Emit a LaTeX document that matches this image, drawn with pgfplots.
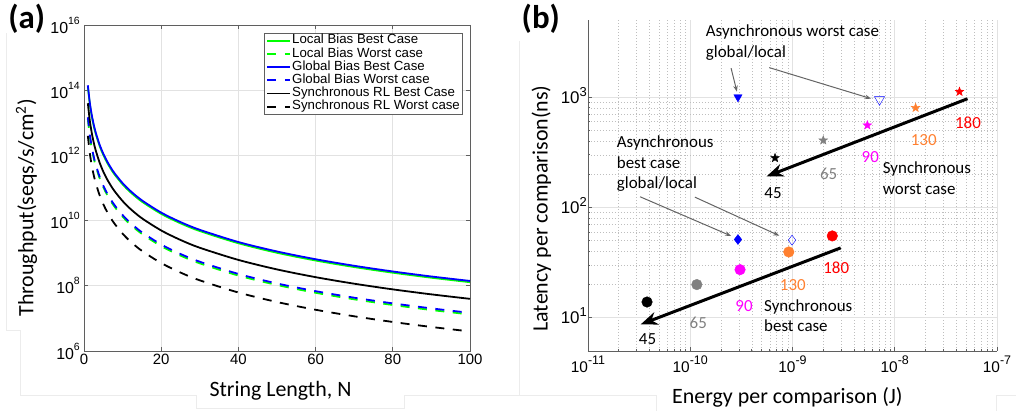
\documentclass[border=0pt]{standalone}
\usepackage{pgfplots}
\pgfplotsset{compat=1.18}
\usepackage{pgfplotstable}
\usepackage{fontspec}
\setmainfont{Carlito}
\newfontfamily\arial{Liberation Sans}
\usetikzlibrary{arrows.meta}

\definecolor{axgray}{RGB}{95,95,95}
\definecolor{gridgray}{RGB}{226,226,226}
\definecolor{minorgray}{RGB}{190,190,190}
\definecolor{edgegray}{RGB}{236,236,236}
\definecolor{arrgray}{RGB}{100,100,100}
\definecolor{morange}{RGB}{255,128,48}
\definecolor{mmagenta}{RGB}{255,0,255}
\definecolor{mgray}{RGB}{128,128,128}

% powers of ten for the tick labels
\newcommand{\tenA}[1]{10\raisebox{9bp}{\fontsize{10.5}{10.5}\selectfont #1}}
\newcommand{\tenB}[1]{10\raisebox{8bp}{\fontsize{12.5}{12.5}\selectfont #1}}
\newcommand{\tenC}[1]{10\raisebox{7bp}{\fontsize{13}{13}\selectfont #1}}
\newcommand{\legfont}{\arial\fontsize{13.3}{13.3}\selectfont}

% filled five-pointed star
\pgfdeclareplotmark{pstar}{%
  \pgfpathmoveto{\pgfpointpolar{90}{\pgfplotmarksize}}%
  \pgfpathlineto{\pgfpointpolar{126}{0.42\pgfplotmarksize}}%
  \pgfpathlineto{\pgfpointpolar{162}{\pgfplotmarksize}}%
  \pgfpathlineto{\pgfpointpolar{198}{0.42\pgfplotmarksize}}%
  \pgfpathlineto{\pgfpointpolar{234}{\pgfplotmarksize}}%
  \pgfpathlineto{\pgfpointpolar{270}{0.42\pgfplotmarksize}}%
  \pgfpathlineto{\pgfpointpolar{306}{\pgfplotmarksize}}%
  \pgfpathlineto{\pgfpointpolar{342}{0.42\pgfplotmarksize}}%
  \pgfpathlineto{\pgfpointpolar{18}{\pgfplotmarksize}}%
  \pgfpathlineto{\pgfpointpolar{54}{0.42\pgfplotmarksize}}%
  \pgfpathclose
  \pgfusepathqfillstroke}

% throughput (seqs/s/cm^2) versus string length N
\pgfplotstableread{
N    LB       LW       GB       GW       SB       SW
1    1.29e14  1.32e13  1.41e14  1.48e13  3.98e13  3.98e12
1.5  3.82e13  3.91e12  4.18e13  4.39e12  1.18e13  1.18e12
2    1.61e13  1.65e12  1.76e13  1.85e12  4.98e12  4.98e11
2.5  8.26e12  8.45e11  9.02e12  9.47e11  2.55e12  2.55e11
3    4.78e12  4.89e11  5.22e12  5.48e11  1.47e12  1.47e11
4    2.02e12  2.06e11  2.20e12  2.31e11  6.22e11  6.22e10
5    1.03e12  1.06e11  1.13e12  1.18e11  3.18e11  3.18e10
6    5.97e11  6.11e10  6.53e11  6.85e10  1.84e11  1.84e10
7    3.76e11  3.85e10  4.11e11  4.31e10  1.16e11  1.16e10
8    2.52e11  2.58e10  2.75e11  2.89e10  7.77e10  7.77e9
10   1.29e11  1.32e10  1.41e11  1.48e10  3.98e10  3.98e9
12   7.47e10  7.64e9   8.16e10  8.56e9   2.30e10  2.30e9
15   3.82e10  3.91e9   4.18e10  4.39e9   1.18e10  1.18e9
20   1.61e10  1.65e9   1.76e10  1.85e9   4.98e9   4.98e8
25   8.26e9   8.45e8   9.02e9   9.47e8   2.55e9   2.55e8
30   4.78e9   4.89e8   5.22e9   5.48e8   1.47e9   1.47e8
40   2.02e9   2.06e8   2.20e9   2.31e8   6.22e8   6.22e7
50   1.03e9   1.06e8   1.13e9   1.18e8   3.18e8   3.18e7
60   5.97e8   6.11e7   6.53e8   6.85e7   1.84e8   1.84e7
70   3.76e8   3.85e7   4.11e8   4.31e7   1.16e8   1.16e7
80   2.52e8   2.58e7   2.75e8   2.89e7   7.77e7   7.77e6
90   1.77e8   1.81e7   1.93e8   2.03e7   5.46e7   5.46e6
100  1.29e8   1.32e7   1.41e8   1.48e7   3.98e7   3.98e6
}\thr

\begin{document}
\begin{tikzpicture}[x=1bp,y=1bp]
\useasboundingbox (0bp,0bp) rectangle (1016bp,411bp);

% faint frame edges behind the panels
\begin{scope}[draw=edgegray, line width=0.8bp]
\draw (6.7bp,378bp) -- (6.7bp,81bp) -- (20bp,81bp) -- (20bp,16bp) -- (196.7bp,16bp)
      -- (196.7bp,2.7bp) -- (404.3bp,2.7bp) -- (404.3bp,16bp) -- (500bp,16bp);
\draw (519.3bp,370bp) -- (519.3bp,16bp);
\draw (500bp,16bp) -- (656.7bp,16bp) -- (656.7bp,0bp);
\draw (996bp,0bp) -- (996bp,16bp) -- (1016bp,16bp);
\end{scope}

% ---------------- (a) throughput ----------------
\begin{axis}[
  at={(84bp,60bp)}, anchor=south west, scale only axis,
  width=386bp, height=326bp,
  xmin=0, xmax=100, ymode=log, ymin=1e6, ymax=1e16,
  xtick={0,20,40,60,80,100}, xticklabels={0,20,40,60,80,100},
  ytick={1e6,1e8,1e10,1e12,1e14,1e16},
  yticklabels={\tenA{6},\tenA{8},\tenA{10},\tenA{12},\tenA{14},\tenA{16}},
  grid=major, major grid style={draw=gridgray, line width=0.7bp},
  tick align=inside, major tick length=4bp,
  axis line style={draw=axgray, line width=0.8bp},
  tick style={draw=axgray, line width=0.8bp},
  ticklabel style={font=\arial\fontsize{15}{15}\selectfont, inner sep=0pt, text=black},
  xticklabel style={anchor=north, yshift=-2.5bp},
  yticklabel style={anchor=east, xshift=-4bp, font=\arial\fontsize{16}{16}\selectfont},
  xlabel={String Length, N},
  ylabel={Throughput(seqs/s/cm\textsuperscript{2})},
  label style={font=\fontsize{22}{22}\selectfont},
  xlabel style={at={(axis description cs:0.509,-0.1411)}, anchor=base},
  ylabel style={at={(axis description cs:-0.1313,0.439)}, anchor=base},
  legend cell align=left,
  legend image code/.code={\draw[#1, line width=1.8bp] (0bp,0bp) -- (23bp,0bp);},
  legend style={at={(rel axis cs:0.9826,0.9764)}, anchor=north east,
    draw=axgray, line width=0.8bp, fill=white, font=\legfont,
    inner xsep=2bp, inner ysep=1bp, row sep=0pt, column sep=0pt,
    nodes={font=\legfont, inner xsep=1bp, inner ysep=0.2bp, text height=9.6bp, text depth=3.2bp}},
]
\addplot[green, line width=1.8bp, smooth] table[x=N, y=LB] {\thr};
\addlegendentry{\legfont Local Bias Best Case}
\addplot[green, line width=1.8bp, smooth, dash pattern=on 9bp off 8.5bp] table[x=N, y=LW] {\thr};
\addlegendentry{\legfont Local Bias Worst case}
\addplot[blue, line width=1.8bp, smooth] table[x=N, y=GB] {\thr};
\addlegendentry{\legfont Global Bias Best Case}
\addplot[blue, line width=1.8bp, smooth, dash pattern=on 9bp off 8.5bp] table[x=N, y=GW] {\thr};
\addlegendentry{\legfont Global Bias Worst case}
\addplot[black, line width=1.8bp, smooth] table[x=N, y=SB] {\thr};
\addlegendentry{\legfont Synchronous RL Best Case}
\addplot[black, line width=1.8bp, smooth, dash pattern=on 9bp off 8.5bp] table[x=N, y=SW] {\thr};
\addlegendentry{\legfont Synchronous RL Worst case}
\end{axis}

% ---------------- (b) latency versus energy ----------------
\begin{axis}[
  at={(588bp,60bp)}, anchor=south west, scale only axis,
  width=409bp, height=331bp,
  xmode=log, ymode=log, xmin=1e-11, xmax=1e-7, ymin=5, ymax=5000,
  axis lines*=left,
  axis line style={-, draw=axgray, line width=0.8bp},
  tick style={draw=axgray, line width=0.7bp},
  xtick={1e-11,1e-10,1e-9,1e-8,1e-7},
  xticklabels={\tenB{-11},\tenB{-10},\tenB{-9},\tenB{-8},\tenB{-7}},
  ytick={10,100,1000},
  yticklabels={\tenC{1},\tenC{2},\tenC{3}},
  grid=both,
  major grid style={draw=gridgray, line width=0.7bp},
  minor grid style={draw=minorgray, dash pattern=on 1bp off 2bp, line width=0.6bp},
  tick align=inside, major tick length=4bp, minor tick length=2.5bp,
  ticklabel style={font=\arial\fontsize{15.5}{15.5}\selectfont, inner sep=0pt, text=black},
  xticklabel style={anchor=north, yshift=-5bp},
  yticklabel style={anchor=east, xshift=-1bp, yshift=2bp, font=\arial\fontsize{17}{17}\selectfont},
  xlabel={Energy per comparison (J)},
  ylabel={Latency per comparison(ns)},
  label style={font=\fontsize{22}{22}\selectfont},
  xlabel style={at={(axis description cs:0.4875,-0.1601)}, anchor=base},
  ylabel style={at={(axis description cs:-0.0985,0.4305)}, anchor=base},
]
% synchronous, worst case (stars) by technology node
\addplot[only marks, mark=pstar, mark size=4.6bp, black]    coordinates {(6.75e-10,281)};
\addplot[only marks, mark=pstar, mark size=4.6bp, mgray]    coordinates {(2.0e-9,406)};
\addplot[only marks, mark=pstar, mark size=4.6bp, mmagenta] coordinates {(5.4e-9,556)};
\addplot[only marks, mark=pstar, mark size=4.6bp, morange]  coordinates {(1.6e-8,800)};
\addplot[only marks, mark=pstar, mark size=4.6bp, red]      coordinates {(4.3e-8,1120)};
% synchronous, best case (circles)
\addplot[only marks, mark=*, mark size=5.3bp, black]    coordinates {(3.78e-11,13.9)};
\addplot[only marks, mark=*, mark size=5.3bp, mgray]    coordinates {(1.16e-10,20)};
\addplot[only marks, mark=*, mark size=5.3bp, mmagenta] coordinates {(3.07e-10,27.3)};
\addplot[only marks, mark=*, mark size=5.3bp, morange]  coordinates {(9.2e-10,39.5)};
\addplot[only marks, mark=*, mark size=5.3bp, red]      coordinates {(2.45e-9,55.2)};
% asynchronous, global (filled) and local (open)
\addplot[only marks, mark=triangle*, mark size=4.8bp, blue, mark options={rotate=180}] coordinates {(2.93e-10,1000)};
\addplot[only marks, mark=triangle, mark size=5.8bp, blue, mark options={rotate=180, fill=white}] coordinates {(7.1e-9,950)};
\addplot[only marks, mark=diamond*, mark size=5bp, blue] coordinates {(2.93e-10,51.2)};
\addplot[only marks, mark=diamond, mark size=5bp, blue, mark options={fill=white}] coordinates {(9.9e-10,50.5)};

% scaling trends
\draw[line width=3bp, -{Stealth[length=17bp,width=13bp]}]
  (axis cs:5.15e-8,967) -- (axis cs:5.57e-10,191);
\draw[line width=3bp, -{Stealth[length=17bp,width=13bp]}]
  (axis cs:2.96e-9,43) -- (axis cs:3.27e-11,8.7);
% pointers from the annotations
\begin{scope}[draw=arrgray, line width=1bp, -{Stealth[length=6bp,width=4.5bp]}]
\draw (axis cs:2.51e-10,1828) -- (axis cs:2.86e-10,1122);
\draw (axis cs:5.93e-10,1851) -- (axis cs:5.86e-9,969);
\draw (axis cs:3.23e-11,125) -- (axis cs:2.51e-10,55.2);
\draw (axis cs:1.11e-10,124) -- (axis cs:7.43e-10,55.5);
\end{scope}
\end{axis}

% panel letters
\node[anchor=base, font=\bfseries\fontsize{33}{33}\selectfont, inner sep=0pt] at (26.7bp,382.5bp) {(a)};
\node[anchor=base, font=\bfseries\fontsize{33}{33}\selectfont, inner sep=0pt] at (540.8bp,382.5bp) {(b)};

% annotations of panel (b)
\begin{scope}[every node/.style={font=\fontsize{17}{17}\selectfont, inner sep=0pt}]
\node[anchor=base west] at (705.7bp,374.3bp) {Asynchronous worst case};
\node[anchor=base west] at (705.7bp,353.7bp) {global/local};
\node[anchor=base west] at (616.7bp,263.3bp) {Asynchronous};
\node[anchor=base west] at (616.7bp,242.7bp) {best case};
\node[anchor=base west] at (616.7bp,222bp) {global/local};
\node[anchor=base west] at (882.7bp,237bp) {Synchronous};
\node[anchor=base west] at (882.7bp,216.7bp) {worst case};
\node[anchor=base west] at (764bp,99.7bp) {Synchronous};
\node[anchor=base west] at (764bp,79bp) {best case};
% node sizes along the worst-case trend
\node[red]      at (968bp,288.7bp) {180};
\node[morange]  at (923.7bp,271bp) {130};
\node[mmagenta] at (870.3bp,254.3bp) {90};
\node[mgray]    at (828.7bp,237.3bp) {65};
\node[black]    at (773bp,218.3bp) {45};
% node sizes along the best-case trend
\node[red]      at (836.2bp,143.7bp) {180};
\node[morange]  at (792.8bp,126bp) {130};
\node[mmagenta] at (744bp,105.3bp) {90};
\node[mgray]    at (698.3bp,88.3bp) {65};
\node[black]    at (647.5bp,72.3bp) {45};
\end{scope}
\end{tikzpicture}
\end{document}
